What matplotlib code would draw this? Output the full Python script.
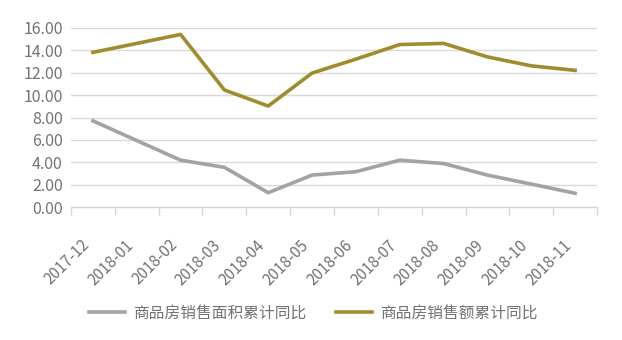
import matplotlib
matplotlib.use("Agg")
import matplotlib.pyplot as plt
from matplotlib.ticker import FixedLocator, FixedFormatter

plt.rcParams['font.family'] = ['Noto Sans CJK SC', 'DejaVu Sans']

months = ["2017-12", "2018-01", "2018-02", "2018-03", "2018-04", "2018-05",
          "2018-06", "2018-07", "2018-08", "2018-09", "2018-10", "2018-11"]
area_yoy = [7.7, 5.95, 4.2, 3.56, 1.3, 2.87, 3.17, 4.2, 3.9, 2.87, 2.07, 1.25]
amount_yoy = [13.8, 14.6, 15.4, 10.45, 9.02, 11.96, 13.2, 14.5, 14.6, 13.4, 12.6, 12.2]
y_ticks = [0, 2, 4, 6, 8, 10, 12, 14, 16]

series_names = ["商品房销售面积累计同比", "商品房销售额累计同比"]
colors = ["#a3a3a3", "#a08c2c"]
text_color = "#727272"

W, H = 622, 340
fig = plt.figure(figsize=(W / 100, H / 100), dpi=100)
ax = fig.add_axes([71 / W, 1 - 207.3 / H, (597 - 71) / W, (207.3 - 27.7) / H])

x = list(range(len(months)))
ax.plot(x, area_yoy, color=colors[0], lw=2.6, solid_joinstyle='round', label=series_names[0])
ax.plot(x, amount_yoy, color=colors[1], lw=2.6, solid_joinstyle='round', label=series_names[1])

ax.set_xlim(-0.5, len(months) - 0.5)
ax.set_ylim(0, 16)
ax.set_yticks(y_ticks)
ax.set_yticklabels([f"{v:.2f}" for v in y_ticks])
ax.yaxis.grid(True, color="#d9d9d9", lw=1.0)
ax.set_axisbelow(True)
ax.tick_params(axis='y', length=0, pad=6, labelsize=11.5, labelcolor=text_color)

# category boundaries get the tick marks, category centres get the labels
ax.xaxis.set_major_locator(FixedLocator([i - 0.5 for i in range(len(months) + 1)]))
ax.xaxis.set_major_formatter(FixedFormatter([""] * (len(months) + 1)))
ax.xaxis.set_minor_locator(FixedLocator(x))
ax.xaxis.set_minor_formatter(FixedFormatter(months))
ax.tick_params(axis='x', which='major', length=6, color="#d6d6d6", width=1)
ax.tick_params(axis='x', which='minor', length=0, pad=21, labelsize=11, labelcolor=text_color)
for lbl in ax.get_xticklabels(minor=True):
    lbl.set_rotation(45)
    lbl.set_ha('right')
    lbl.set_rotation_mode('default')

for side in ["left", "right", "top"]:
    ax.spines[side].set_visible(False)
ax.spines["bottom"].set_color("#d6d6d6")
ax.spines["bottom"].set_linewidth(1)

fig.legend(loc='center', bbox_to_anchor=(313 / W, 1 - 313 / H), ncol=2, frameon=False,
           fontsize=11.3, labelcolor=text_color, handlelength=2.3, handletextpad=0.5,
           columnspacing=1.9)

fig.savefig("out.png", dpi=100)
